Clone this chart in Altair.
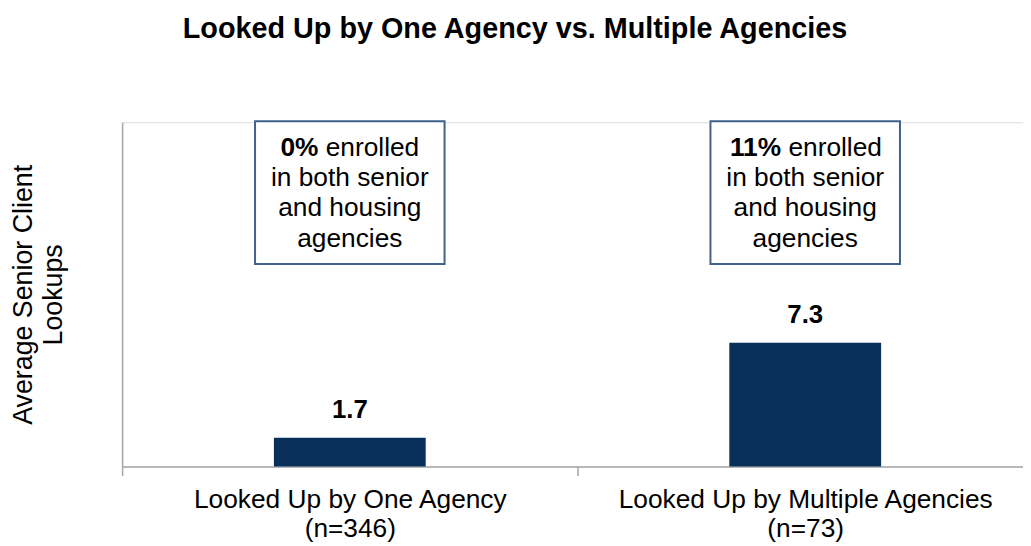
import altair as alt
import pandas as pd

# ---- data ----
groups = ["Looked Up by One Agency", "Looked Up by Multiple Agencies"]
sample_sizes = [346, 73]
avg_lookups = [1.7, 7.3]
pct_both = ["0%", "11%"]
note_first = "enrolled"
note_lines = ["in both senior", "and housing", "agencies"]

labels = [f"{g}\n(n={n})" for g, n in zip(groups, sample_sizes)]
df = pd.DataFrame({
    "group": labels,
    "value": avg_lookups,
    "pct": pct_both,
    "first": [note_first] * len(groups),
    "note": ["\n".join(note_lines)] * len(groups),
})

FONT = "Liberation Sans"
GRAY = "#a6a6a6"
BAR = "#08305b"
BOX = "#41618a"
FS = 26.5

x = alt.X(
    "group:N", sort=labels,
    scale=alt.Scale(range=[0, 918], paddingInner=0, paddingOuter=0),
    axis=alt.Axis(
        title=None, labelExpr="split(datum.label, '\\n')", labelAngle=0,
        labelFont=FONT, labelFontSize=FS, labelColor="black", labelLineHeight=30,
        labelBaseline="top", labelPadding=11, labelLimit=0, tickBand="extent",
        tickSize=9, tickColor=GRAY, tickWidth=1.5, domainColor=GRAY,
        domainWidth=1.5,
    ),
)
y = alt.Y(
    "value:Q", scale=alt.Scale(domain=[0, 20.3], nice=False),
    axis=alt.Axis(
        title=["Average Senior Client", "Lookups"], labels=False, ticks=False,
        grid=False, domainColor=GRAY, domainWidth=1.5, titleFont=FONT,
        titleFontSize=27, titleFontWeight="normal", titleColor="black",
        titleLineHeight=30, titlePadding=55,
    ),
)

base = alt.Chart(df)

bars = base.mark_bar(size=153, color=BAR).encode(x=x, y=y)
vals = base.mark_text(font=FONT, fontSize=26, fontWeight="bold", dy=-20,
                      baseline="alphabetic", color="black").encode(
    x=x, y=y, text=alt.Text("value:Q", format=".1f"))

boxes = base.mark_bar(size=191, fill="white", stroke=BOX, strokeWidth=2).encode(
    x=x, y=alt.value(-1), y2=alt.value(143))

notes = base.mark_text(font=FONT, fontSize=FS, lineBreak="\n", lineHeight=30.5,
                       baseline="alphabetic", color="black").encode(
    x=x, y=alt.value(64.5), text="note:N")

# first line: bold percentage + regular "enrolled", centred as one line
def w(s):
    widths = {"%": .889, " ": .278, "e": .556, "n": .556, "r": .333, "o": .556,
              "l": .222, "d": .556}
    tot = 0
    for ch in s:
        tot += .556 if ch.isdigit() else widths.get(ch, .556)
    return tot * FS

first_layers = []
for lab, pct in zip(labels, pct_both):
    wb = w(pct)
    ws = w(" ")
    wr = w(note_first)
    total = wb + ws + wr
    split = -total / 2 + wb
    sub = base.transform_filter(alt.datum.group == lab)
    first_layers.append(sub.mark_text(font=FONT, fontSize=FS, fontWeight="bold",
                                      align="right", dx=split, baseline="alphabetic",
                                      color="black").encode(
        x=x, y=alt.value(34), text="pct:N"))
    first_layers.append(sub.mark_text(font=FONT, fontSize=FS, align="left",
                                      dx=split + ws, baseline="alphabetic",
                                      color="black").encode(
        x=x, y=alt.value(34), text="first:N"))

chart = alt.layer(bars, vals, boxes, notes, *first_layers).properties(
    width=908, height=347,
    title=alt.TitleParams(
        "Looked Up by One Agency vs. Multiple Agencies", font=FONT, fontSize=29,
        fontWeight="bold", anchor="middle", dx=-58, offset=77, color="black"),
    autosize=alt.AutoSizeParams(type="none"),
    padding={"left": 115, "top": 113, "right": 0, "bottom": 78},
).configure_view(stroke=None).configure(background="white")

chart.save("out.html", embed_options={"renderer": "svg", "actions": False})
